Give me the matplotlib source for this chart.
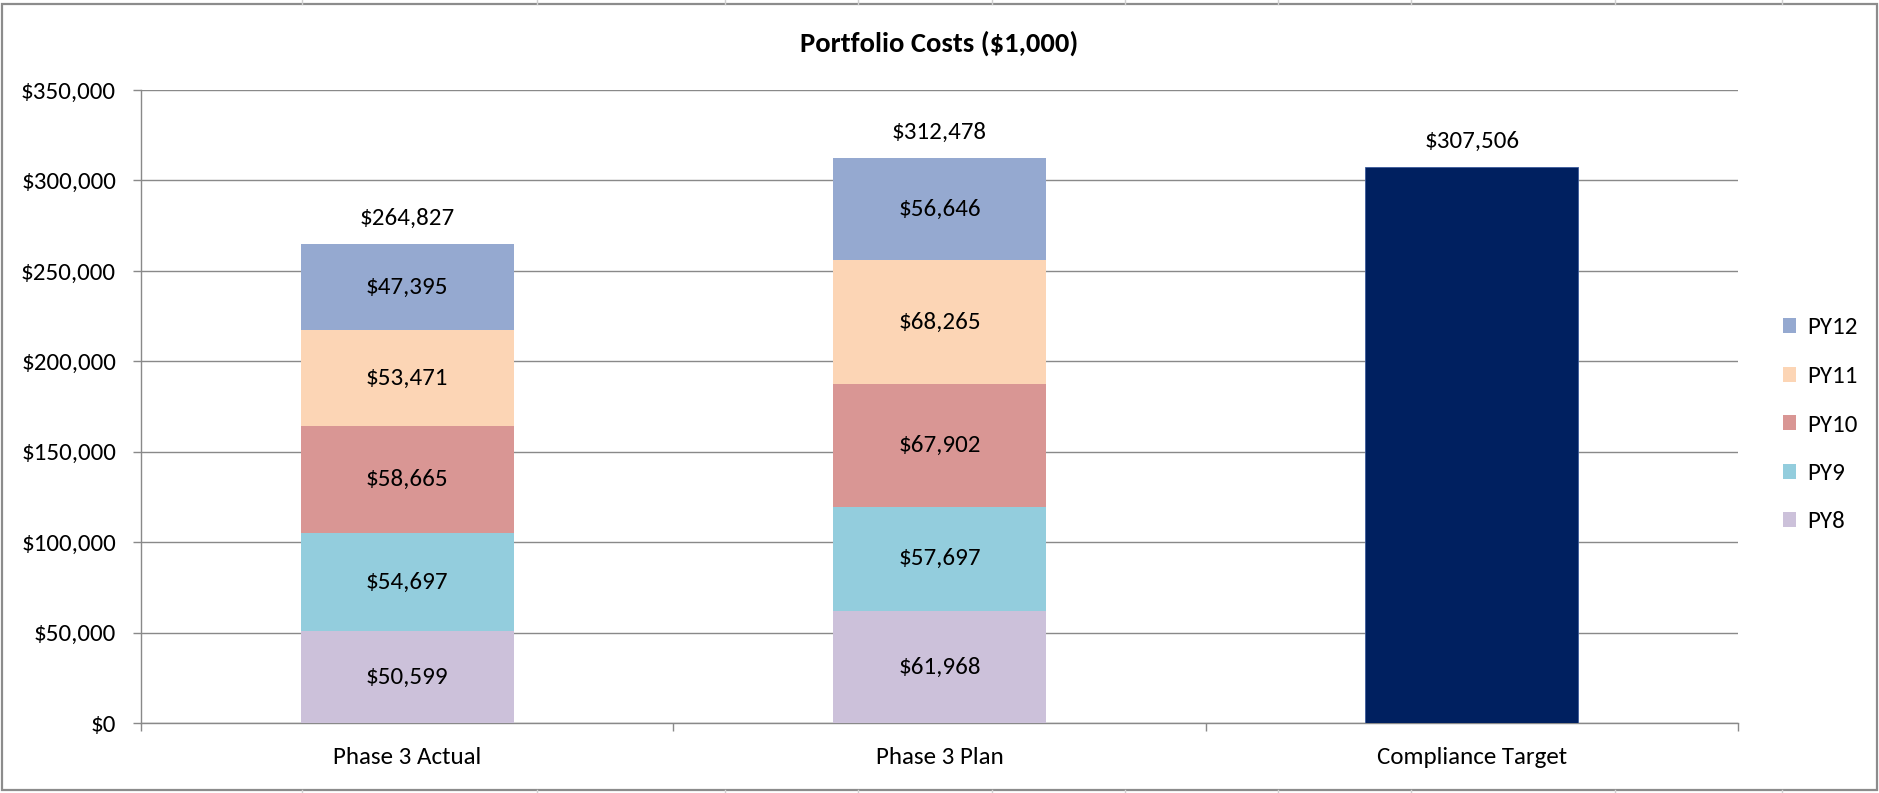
"""Portfolio costs stacked bar figure (Excel-style)."""
import matplotlib
matplotlib.use("Agg")
import matplotlib.pyplot as plt
from matplotlib import font_manager
from matplotlib.lines import Line2D
from matplotlib.patches import Rectangle

OUT = "out.png"

CATEGORIES = ["Phase 3 Actual", "Phase 3 Plan", "Compliance Target"]
SERIES = ["PY8", "PY9", "PY10", "PY11", "PY12"]
PY8 = [50599, 61968]
PY9 = [54697, 57697]
PY10 = [58665, 67902]
PY11 = [53471, 68265]
PY12 = [47395, 56646]
TARGET = 307506

COLORS = {"PY8": "#CCC1DA", "PY9": "#93CDDD", "PY10": "#D99694",
          "PY11": "#FCD5B5", "PY12": "#95A9D0"}
TARGET_COLOR = "#002060"
GRID = "#898989"

# faint spreadsheet cell lines peeking outside the chart border (px)
CELL_X = [302, 537, 725, 858, 992, 1125, 1278, 1411, 1615, 1782]


def pick_font():
    names = {f.name for f in font_manager.fontManager.ttflist}
    for n in ["Carlito", "Calibri", "Lato", "Open Sans"]:
        if n in names:
            return n
    return "DejaVu Sans"


def money(v):
    return f"${v:,.0f}"


def main():
    plt.rcParams["font.family"] = [pick_font(), "DejaVu Sans"]
    fs = 18
    W, H = 1879, 793
    fig = plt.figure(figsize=(W / 100, H / 100), dpi=100)
    ax = fig.add_axes([141 / W, 1 - 723 / H, (1738 - 141) / W, (723 - 90) / H])

    width = 0.4
    data = {"PY8": PY8, "PY9": PY9, "PY10": PY10, "PY11": PY11, "PY12": PY12}
    xs = [0, 1]
    bottoms = [0, 0]
    handles = {}
    for s in SERIES:
        vals = data[s]
        bars = ax.bar(xs, vals, width, bottom=bottoms, color=COLORS[s],
                      label=s, zorder=3)
        handles[s] = bars
        for x, b, v in zip(xs, bottoms, vals):
            ax.text(x, b + v / 2, money(v), ha="center", va="center",
                    fontsize=fs, zorder=4)
        bottoms = [b + v for b, v in zip(bottoms, vals)]
    for x, tot in zip(xs, bottoms):
        ax.annotate(money(tot), (x, tot), xytext=(0, 18.5),
                    textcoords="offset points", ha="center", va="center",
                    fontsize=fs)
    ax.bar([2], [TARGET], width, color=TARGET_COLOR, edgecolor="#3b5a9a",
           linewidth=0.6, zorder=3)
    ax.annotate(money(TARGET), (2, TARGET), xytext=(0, 18.5),
                textcoords="offset points", ha="center", va="center",
                fontsize=fs)

    ax.set_xlim(-0.5, 2.5)
    ax.set_ylim(0, 350000)
    ax.set_yticks(range(0, 350001, 50000))
    ax.set_yticklabels([money(v) for v in range(0, 350001, 50000)], fontsize=fs)
    ax.set_xticks(range(len(CATEGORIES)))
    ax.set_xticklabels(CATEGORIES, fontsize=fs)
    ax.set_xticks([-0.5, 0.5, 1.5, 2.5], minor=True)
    ax.tick_params(axis="x", which="major", length=0, pad=17)
    ax.tick_params(axis="x", which="minor", length=5.5, color=GRID, width=1,
                   direction="out")
    ax.tick_params(axis="y", length=6, color=GRID, width=1, pad=12)
    ax.grid(axis="y", color=GRID, lw=1, zorder=0)
    ax.set_axisbelow(True)
    for side in ["top", "right"]:
        ax.spines[side].set_visible(False)
    for side in ["left", "bottom"]:
        ax.spines[side].set_color(GRID)
        ax.spines[side].set_linewidth(1)

    fig.text(0.5, 1 - 43 / H, "Portfolio Costs ($1,000)", ha="center",
             va="center", fontsize=20.5, fontweight="bold")

    order = SERIES[::-1]
    fig.legend([handles[s] for s in order], order, loc="center left",
               bbox_to_anchor=(1770 / W, 1 - 425 / H), frameon=False,
               fontsize=fs, handlelength=0.55, handleheight=0.55,
               handletextpad=0.45, labelspacing=1.1, borderpad=0)

    # chart border and spreadsheet cell lines
    fig.add_artist(Rectangle((2 / W, 1 - 790 / H), 1875 / W, 786 / H,
                             transform=fig.transFigure, fill=False,
                             edgecolor="#8c8c8c", lw=1.6))
    for cx in CELL_X:
        fig.add_artist(Line2D([cx / W, cx / W], [1, 1 - 4 / H],
                              transform=fig.transFigure, color="#d0d0d0", lw=1))
        fig.add_artist(Line2D([cx / W, cx / W], [0, 3 / H],
                              transform=fig.transFigure, color="#d0d0d0", lw=1))

    fig.savefig(OUT, dpi=100, facecolor="white")


if __name__ == "__main__":
    main()
